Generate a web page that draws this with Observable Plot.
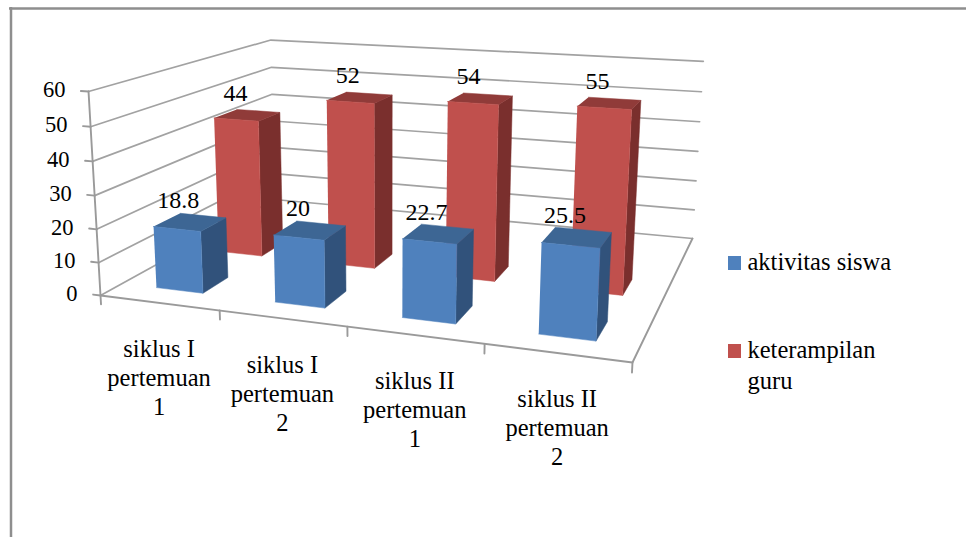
<!DOCTYPE html>
<html>
<head>
<meta charset="utf-8">
<script src="https://cdn.jsdelivr.net/npm/d3@7"></script>
<script src="https://cdn.jsdelivr.net/npm/@observablehq/plot@0.6"></script>
<style>
  html, body { margin: 0; padding: 0; background: #fff; }
  svg { display: block; }
</style>
</head>
<body>
<div id="chart"></div>
<script>
// Chart values
const categories = ["siklus I\npertemuan\n1", "siklus I\npertemuan\n2", "siklus II\npertemuan\n1", "siklus II\npertemuan\n2"];
const seriesNames = ["aktivitas siswa", "keterampilan\nguru"];
const aktivitasSiswa = [18.8, 20, 22.7, 25.5];
const keterampilanGuru = [44, 52, 54, 55];
const valueTicks = [0, 10, 20, 30, 40, 50, 60];

// Shades of each series: front, top and side faces of a column
const blueShades = {front: "#4f81bd", top: "#3d6694", side: "#31527b"};
const redShades = {front: "#c0504d", top: "#903b39", side: "#7a2f2d"};
const gridColor = "#a2a2a2";
const axisColor = "#9a9a9a";
const borderColor = "#8e8e8e";

// Perspective camera. s runs along the categories (0..1), t runs into the
// depth of the chart (0..1), v is the value as a fraction of the axis maximum.
const valueMax = 60;
const project = (s, t, v) => {
  const w = -0.134 * s + 0.292 * t - 0.04 * v + 1;
  return {
    x: (447.3 * s + 254 * t - 15.5 * v + 100) / w,
    y: (18.5 * s - 37.9 * t - 207.6 * v + 295) / w
  };
};

// The chart has room for three rows in depth; the two series fill the first two.
const rowCount = 3;
const gapRatio = 0.2; // half a column as a share of its slot

const polyline = (id, points) => points.map(([s, t, v]) => ({id, ...project(s, t, v)}));

// Walls, floor and axis ticks
const frameLines = [
  ...valueTicks.flatMap((tick) => {
    const v = tick / valueMax;
    return polyline(`grid-${tick}`, [[0, 0, v], [0, 1, v], [1, 1, v]]);
  })
];
const axisLines = [
  ...polyline("value-axis", [[0, 0, 0], [0, 0, 1]]),
  ...polyline("floor", [[0, 0, 0], [1, 0, 0], [1, 1, 0]]),
  ...valueTicks.flatMap((tick) =>
    polyline(`value-tick-${tick}`, [[-0.016, 0, tick / valueMax], [0, 0, tick / valueMax]])
  ),
  ...categories.concat([""]).flatMap((_, i) =>
    polyline(`category-tick-${i}`, [[i / categories.length, 0, 0], [i / categories.length, 0, -0.045]])
  )
];

// One polygon per visible column face, back row first so nearer columns cover it
const columnFaces = (values, row, shades) =>
  values.flatMap((value, i) => {
    const slotS = 1 / values.length;
    const slotT = 1 / rowCount;
    const s0 = (i + 0.5) * slotS - gapRatio * slotS;
    const s1 = (i + 0.5) * slotS + gapRatio * slotS;
    const t0 = (row + 0.5) * slotT - gapRatio * slotT;
    const t1 = (row + 0.5) * slotT + gapRatio * slotT;
    const v = value / valueMax;
    const key = `${row}-${i}`;
    return [
      ...polyline(`side-${key}`, [[s1, t0, 0], [s1, t1, 0], [s1, t1, v], [s1, t0, v]]).map((d) => ({...d, color: shades.side})),
      ...polyline(`top-${key}`, [[s0, t0, v], [s1, t0, v], [s1, t1, v], [s0, t1, v]]).map((d) => ({...d, color: shades.top})),
      ...polyline(`front-${key}`, [[s0, t0, 0], [s1, t0, 0], [s1, t0, v], [s0, t0, v]]).map((d) => ({...d, color: shades.front}))
    ];
  });

const faces = [
  ...columnFaces(keterampilanGuru, 1, redShades),
  ...columnFaces(aktivitasSiswa, 0, blueShades)
];

// Value labels sit over the centre of each column's top
const columnLabels = (values, row) =>
  values.map((value, i) => ({
    value,
    ...project((i + 0.5) / values.length, (row + 0.5) / rowCount, value / valueMax)
  }));
const valueLabels = [...columnLabels(keterampilanGuru, 1), ...columnLabels(aktivitasSiswa, 0)];

const valueAxisLabels = valueTicks.map((tick) => ({tick, ...project(0, 0, tick / valueMax)}));
const categoryLabels = categories.map((label, i) => ({label, ...project((i + 0.5) / categories.length, 0, 0)}));

// Legend rows on the right-hand side
const legendRows = seriesNames.map((name, i) => ({
  name,
  color: [blueShades, redShades][i].front,
  top: 256 + i * 88
}));

const fontSize = 24.5;

const chart = Plot.plot({
  width: 966,
  height: 537,
  margin: 0,
  x: {domain: [0, 966], range: [0, 966], axis: null},
  y: {domain: [0, 537], range: [0, 537], axis: null},
  color: {type: "identity"},
  style: {fontFamily: "'Liberation Serif', serif", background: "#fff"},
  marks: [
    // Outer border of the chart area
    Plot.ruleY([8], {x1: 9, x2: 966, stroke: borderColor, strokeWidth: 2.5}),
    Plot.ruleX([10.5], {y1: 7, y2: 537, stroke: borderColor, strokeWidth: 2.5}),

    Plot.line(frameLines, {x: "x", y: "y", z: "id", stroke: gridColor, strokeWidth: 1.7, curve: "linear"}),
    Plot.line(axisLines, {x: "x", y: "y", z: "id", stroke: axisColor, strokeWidth: 1.9, curve: "linear"}),

    Plot.line(faces, {x: "x", y: "y", z: "id", fill: "color", stroke: "color", strokeWidth: 0.5, curve: "linear"}),

    Plot.text(valueAxisLabels, {x: "x", y: "y", text: (d) => String(d.tick), textAnchor: "end", dx: -23, dy: -2, fontSize: 22.5, fill: "#000"}),
    Plot.text(valueLabels, {x: "x", y: "y", text: (d) => String(d.value), dx: -12, dy: -22, fontSize: 24, fill: "#000"}),
    Plot.text(categoryLabels, {x: "x", y: "y", text: "label", dy: 74, lineHeight: 29 / fontSize, fontSize, fill: "#000"}),

    Plot.rect(legendRows, {x1: () => 728, x2: () => 741, y1: "top", y2: (d) => d.top + 14, fill: "color"}),
    Plot.text(legendRows, {x: () => 747, y: "top", text: "name", textAnchor: "start", lineAnchor: "top", dy: -8, lineHeight: 30.5 / fontSize, fontSize, fill: "#000"})
  ]
});

document.getElementById("chart").append(chart);
</script>
</body>
</html>
